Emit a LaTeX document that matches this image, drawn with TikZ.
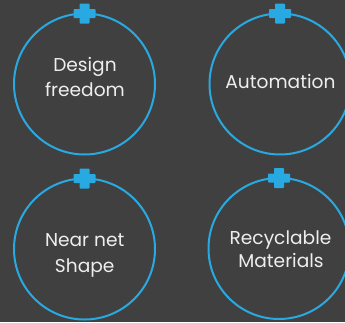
\documentclass[tikz,border=0pt]{standalone}
\usepackage{fontspec}
\setmainfont{Poppins}
\usetikzlibrary{calc}
\definecolor{bg}{HTML}{404040}
\definecolor{ringc}{HTML}{29A9E1}
\definecolor{txt}{HTML}{EEEEEE}
\begin{document}
\begin{tikzpicture}[x=1pt,y=-1pt,
  ring/.style={circle,draw=ringc,line width=2pt,minimum size=141pt,inner sep=0pt,outer sep=0pt},
  lbl/.style={text=txt,font=\fontsize{18.6}{22}\selectfont,anchor=base,inner sep=0pt}]
\useasboundingbox (0,0) rectangle (345,322);
\clip (0,0) rectangle (345,322);
\fill[bg] (0,0) rectangle (345,322);
\node[ring] (c1) at (84.5,84) {};
\node[ring] (c2) at (280,84) {};
\node[ring] (c3) at (84.5,249) {};
\node[ring] (c4) at (279,248.5) {};
\foreach \c in {c1,c2,c3,c4}{
  \fill[ringc, rounded corners=0.8pt] ($(\c.north)+(-11,-4.5)$) rectangle ($(\c.north)+(11,4.5)$);
  \fill[ringc, rounded corners=0.8pt] ($(\c.north)+(-5,-10)$) rectangle ($(\c.north)+(5,10)$);
}
\node[lbl] (t1a) at (85,71) {Design};
\node[lbl] (t1b) at (85,96) {freedom};
\node[lbl] (t2) at (280.4,88.3) {Automation};
\node[lbl] (t3a) at (84.7,246.7) {Near net};
\node[lbl] (t3b) at (84.7,272) {Shape};
\node[lbl] (t4a) at (280.5,244.7) {Recyclable};
\node[lbl] (t4b) at (281,267.5) {Materials};
\end{tikzpicture}
\end{document}
